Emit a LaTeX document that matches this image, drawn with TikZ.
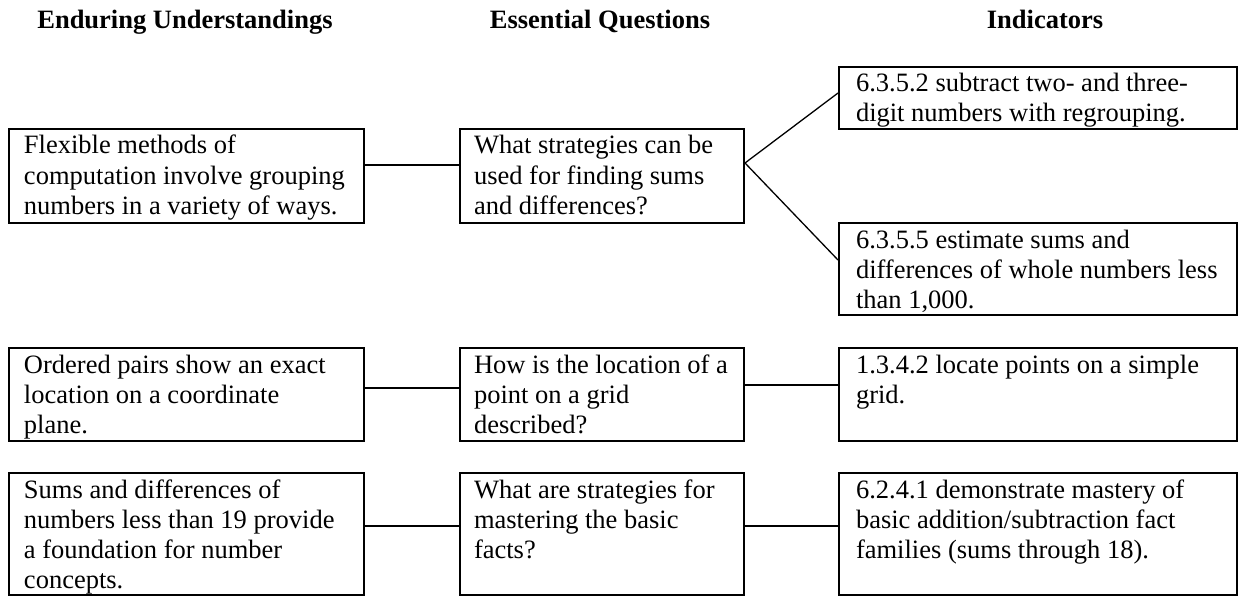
\documentclass[tikz,border=0pt]{standalone}
\usepackage{fontspec}
\setmainfont{Liberation Serif}
\newcommand\bxt[4]{\parbox[t][#2][t]{#1}{\raggedright\leftskip=#3\hyphenpenalty=10000\rule{0pt}{25pt}#4}}
\tikzset{
  box/.style={draw, line width=2pt, inner sep=0pt, anchor=north west,
    font=\fontsize{26.5pt}{30pt}\selectfont},
  head/.style={anchor=base, inner sep=0pt, font=\fontsize{26.5pt}{30pt}\selectfont\bfseries},
  link/.style={line width=1.7pt},
  diag/.style={line width=1.3pt}
}
\begin{document}
\begin{tikzpicture}[x=1pt,y=-1pt]
\useasboundingbox (0,0) rectangle (1238,596);
\node[head] (h1) at (185,29) {Enduring Understandings};
\node[head] (h2) at (600,29) {Essential Questions};
\node[head] (h3) at (1045,29) {Indicators};
% row 1
\node[box] (e1) at (8,128) {\bxt{355pt}{94pt}{15pt}{Flexible methods of\\computation involve grouping\\numbers in a variety of ways.}};
\node[box] (q1) at (459,128) {\bxt{284pt}{94pt}{14pt}{What strategies can be\\used for finding sums\\and differences?}};
\node[box] (i1) at (838,66) {\bxt{398pt}{62pt}{17pt}{6.3.5.2 subtract two- and three-\\digit numbers with regrouping.}};
\node[box] (i2) at (838,222) {\bxt{398pt}{92pt}{17pt}{6.3.5.5 estimate sums and\\differences of whole numbers less\\than 1,000.}};
% row 2
\node[box] (e2) at (8,347) {\bxt{355pt}{93pt}{15pt}{Ordered pairs show an exact\\location on a coordinate\\plane.}};
\node[box] (q2) at (459,347) {\bxt{284pt}{93pt}{14pt}{How is the location of a\\point on a grid\\described?}};
\node[box] (i3) at (838,347) {\bxt{398pt}{93pt}{17pt}{1.3.4.2 locate points on a simple\\grid.}};
% row 3
\node[box] (e3) at (8,472) {\bxt{355pt}{122pt}{15pt}{Sums and differences of\\numbers less than 19 provide\\a foundation for number\\concepts.}};
\node[box] (q3) at (459,472) {\bxt{284pt}{122pt}{14pt}{What are strategies for\\mastering the basic\\facts?}};
\node[box] (i4) at (838,472) {\bxt{398pt}{122pt}{17pt}{6.2.4.1 demonstrate mastery of\\basic addition/subtraction fact\\families (sums through 18).}};
% connectors
\draw[link] ([yshift=11pt]e1.east) -- ([yshift=11pt]q1.west);
\draw[diag] ([yshift=5pt]i1.west) -- ([yshift=13pt]q1.east) -- ([yshift=9pt]i2.west);
\draw[link] ([yshift=6.5pt]e2.east) -- ([yshift=6.5pt]q2.west);
\draw[link] ([yshift=9.5pt]q2.east) -- ([yshift=9.5pt]i3.west);
\draw[link] ([yshift=8pt]e3.east) -- ([yshift=8pt]q3.west);
\draw[link] ([yshift=8pt]q3.east) -- ([yshift=8pt]i4.west);
\end{tikzpicture}
\end{document}
